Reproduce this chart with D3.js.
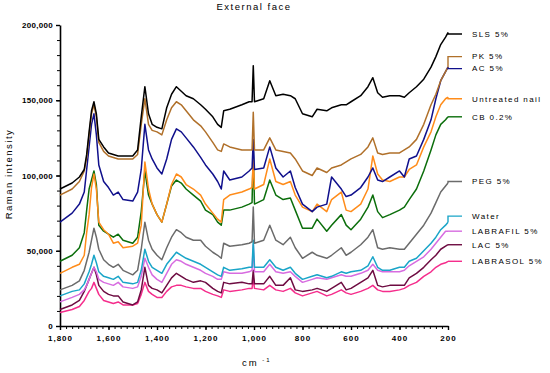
<!DOCTYPE html>
<html lang="en">
<head>
  <meta charset="UTF-8">
  <title>External face</title>
  <script src="https://d3js.org/d3.v7.min.js"></script>
  <style>
    body { margin: 0; background: #fff; }
    svg { display: block; font-family: "Liberation Sans", Arial, sans-serif; }
    .tick text { font-weight: bold; font-size: 8px; fill: #000; }
    .spectrum { fill: none; stroke-width: 1.5; stroke-linejoin: round; }
    .legend-label { font-size: 8px; letter-spacing: 1.4px; fill: #000; }
  </style>
</head>
<body>
  <svg width="550" height="373"></svg>
  <script>
    // wavenumbers (cm-1) shared by every spectrum
    const wavenumbers = [1800,1750,1720,1700,1690,1680,1670,1660,1650,1640,
      1620,1600,1580,1560,1540,1500,1480,1465,1450,1435,
      1420,1400,1380,1360,1340,1320,1300,1280,1250,1220,
      1200,1170,1150,1135,1125,1100,1050,1020,1008,1003,
      998,960,935,910,880,850,830,800,760,740,
      700,680,640,620,600,560,530,510,490,470,
      440,400,380,360,330,300,270,250,230,210,200];

    // Raman intensity, in thousands
    const sls = [91,95,99,104,114,129,143,149,141,124,119,115,114,113,113,113,117,139,159,141,
      134,132,131,145,154,159,156,153,151,147,144,139,134,132,143,144,147,149,149,173,
      149,151,163,153,154,153,151,141,139,144,143,145,147,147,149,153,159,165,155,152,
      153,153,152,155,159,164,172,179,187,192,195];
    const pk = [87,91,96,103,112,127,141,147,139,122,116,113,112,111,111,111,114,134,151,134,
      130,129,127,137,145,149,147,143,137,133,129,122,117,116,121,119,117,117,117,142,
      117,117,125,117,116,115,111,103,100,105,102,105,107,109,111,114,119,125,115,114,
      115,115,117,119,124,134,147,154,163,169,172];
    const ac = [69,75,81,89,104,119,134,141,127,107,96,92,87,89,84,83,89,104,134,117,
      111,105,101,111,124,131,129,125,119,112,107,101,96,91,103,97,99,103,105,124,
      104,105,119,105,99,103,92,81,76,79,81,99,91,86,87,92,99,105,97,96,
      99,103,99,111,113,124,137,151,163,169,172];
    const untreated = [35,39,41,47,62,74,92,101,91,69,64,61,55,56,52,53,55,67,109,91,
      81,74,69,81,94,101,99,94,91,87,81,75,71,69,84,87,89,91,92,111,
      91,94,111,96,94,96,87,79,76,81,76,84,89,77,76,81,91,113,101,97,
      96,99,99,104,107,119,129,139,147,151,152];
    const cb = [43,47,52,62,77,91,97,103,94,67,63,61,59,61,57,55,59,76,103,87,
      81,74,69,81,93,97,95,91,87,83,77,74,69,67,77,77,79,81,82,117,
      81,84,97,87,84,85,77,65,65,71,63,67,74,67,64,71,79,87,76,72,
      74,77,79,84,91,103,117,127,134,137,139];
    const peg = [24,27,30,37,43,49,57,65,59,51,44,41,39,41,37,34,37,51,69,57,
      51,47,44,52,59,64,62,59,57,57,53,49,47,45,55,53,54,55,56,79,
      55,57,67,57,54,59,52,45,49,47,45,47,52,47,49,54,59,64,52,51,
      52,51,51,55,61,67,75,82,89,93,95];
    const water = [20,23,24,28,32,36,41,47,42,36,33,32,31,33,29,28,29,37,51,43,
      39,37,35,41,45,49,47,45,43,41,39,36,34,33,39,37,38,39,39,57,
      39,39,44,39,37,39,35,31,33,34,32,33,36,35,36,37,40,46,39,37,
      37,39,39,43,45,50,55,59,64,67,69];
    const labrafil = [16,19,21,24,27,31,35,39,36,31,29,28,27,29,26,25,26,33,45,39,
      34,31,29,35,41,44,43,41,39,37,35,33,31,31,36,35,35,36,37,54,
      36,36,41,36,35,36,33,29,31,32,31,32,34,33,33,35,37,41,37,36,
      36,36,37,40,43,46,51,55,59,63,63];
    const lac = [11,14,17,23,27,31,35,39,34,27,23,21,20,20,16,14,16,24,39,27,
      25,24,22,27,32,35,33,31,29,30,29,25,23,22,29,28,29,28,28,37,
      28,28,33,27,27,32,24,23,24,25,23,25,29,24,25,29,32,37,27,26,
      27,27,27,32,35,39,44,47,51,53,54];
    const labrasol = [9,11,13,17,20,23,25,29,25,21,17,16,15,16,14,14,15,21,29,23,
      21,19,19,23,26,27,27,26,25,25,23,21,20,19,24,23,24,25,25,32,
      25,24,27,24,23,25,22,20,22,23,20,21,24,22,21,23,25,27,24,23,
      23,24,25,27,29,33,36,39,41,42,43];

    const seriesNames = ["SLS 5%", "PK 5%", "AC 5%", "Untreated nail", "CB 0.2%",
      "PEG 5%", "Water", "LABRAFIL 5%", "LAC 5%", "LABRASOL 5%"];
    const seriesValues = [sls, pk, ac, untreated, cb, peg, water, labrafil, lac, labrasol];
    const seriesColors = ["#000000", "#b0702a", "#10108c", "#ff8c1a", "#0b6e0b",
      "#6b6b6b", "#1aa5c8", "#d76ce0", "#6e0c42", "#f52d8c"];
    // where each legend label sits (intensity, thousands)
    const labelAt = [194, 179, 171, 151, 139, 96, 73, 63, 54, 43];

    const yMajor = [0, 50000, 100000, 150000, 200000];
    const xMajor = [1800, 1600, 1400, 1200, 1000, 800, 600, 400, 200];

    const svg = d3.select("svg");
    const x = d3.scaleLinear().domain([1800, 200]).range([60, 448]);
    const y = d3.scaleLinear().domain([0, 200000]).range([326, 25]);

    // minor ticks
    svg.append("g")
      .attr("transform", "translate(60,0)")
      .call(d3.axisLeft(y).tickValues(d3.range(0, 200001, 10000)).tickSize(3).tickFormat("").tickSizeOuter(0))
      .call(g => g.select(".domain").remove())
      .call(g => g.selectAll("line").attr("stroke-width", 1));
    svg.append("g")
      .attr("transform", "translate(0,326)")
      .call(d3.axisBottom(x).tickValues(d3.range(1800, 199, -25)).tickSize(3).tickFormat("").tickSizeOuter(0))
      .call(g => g.select(".domain").remove())
      .call(g => g.selectAll("line").attr("stroke-width", 1));

    // major ticks + labels
    svg.append("g")
      .attr("transform", "translate(60,0)")
      .call(d3.axisLeft(y).tickValues(yMajor).tickSize(4).tickPadding(3).tickFormat(d3.format(",")).tickSizeOuter(0))
      .call(g => g.select(".domain").attr("stroke-width", 1.6))
      .call(g => g.selectAll("line").attr("stroke-width", 1.4))
      .call(g => g.selectAll("text").attr("letter-spacing", "0.3px"));
    svg.append("g")
      .attr("transform", "translate(0,326)")
      .call(d3.axisBottom(x).tickValues(xMajor).tickSize(4).tickPadding(5).tickSizeOuter(0))
      .call(g => g.select(".domain").attr("stroke-width", 1.6))
      .call(g => g.selectAll("line").attr("stroke-width", 1.4))
      .call(g => g.selectAll("text").attr("letter-spacing", "1px"));

    // spectra, bottom ones first
    const line = d3.line()
      .x((d, i) => x(wavenumbers[i]))
      .y(d => y(d * 1000));

    d3.range(seriesValues.length).reverse().forEach(k => {
      svg.append("path")
        .attr("class", "spectrum")
        .attr("stroke", seriesColors[k])
        .attr("d", line(seriesValues[k]));
    });

    // legend connectors + labels
    seriesValues.forEach((vals, k) => {
      const endY = y(vals[vals.length - 1] * 1000);
      const ly = y(labelAt[k] * 1000);
      svg.append("path")
        .attr("fill", "none")
        .attr("stroke", seriesColors[k])
        .attr("stroke-width", 1.4)
        .attr("d", `M${x(200)},${endY}L${x(200)},${ly}L${x(200) + 14},${ly}`);
      svg.append("text")
        .attr("class", "legend-label")
        .attr("x", x(200) + 24)
        .attr("y", ly)
        .attr("dy", "0.35em")
        .text(seriesNames[k]);
    });

    // titles
    svg.append("text")
      .attr("x", 254).attr("y", 10)
      .attr("text-anchor", "middle")
      .attr("font-size", 9.5).attr("letter-spacing", "1.5px")
      .text("External face");

    svg.append("text")
      .attr("transform", "translate(12,174) rotate(-90)")
      .attr("text-anchor", "middle")
      .attr("font-size", 9.5).attr("letter-spacing", "1.5px")
      .text("Raman intensity");

    const xl = svg.append("text")
      .attr("x", 242).attr("y", 366)
      .attr("font-size", 9.5).attr("letter-spacing", "2px");
    xl.append("tspan").text("cm");
    xl.append("tspan").attr("dy", -4).attr("font-size", 6).text(" -1");
  </script>
</body>
</html>
